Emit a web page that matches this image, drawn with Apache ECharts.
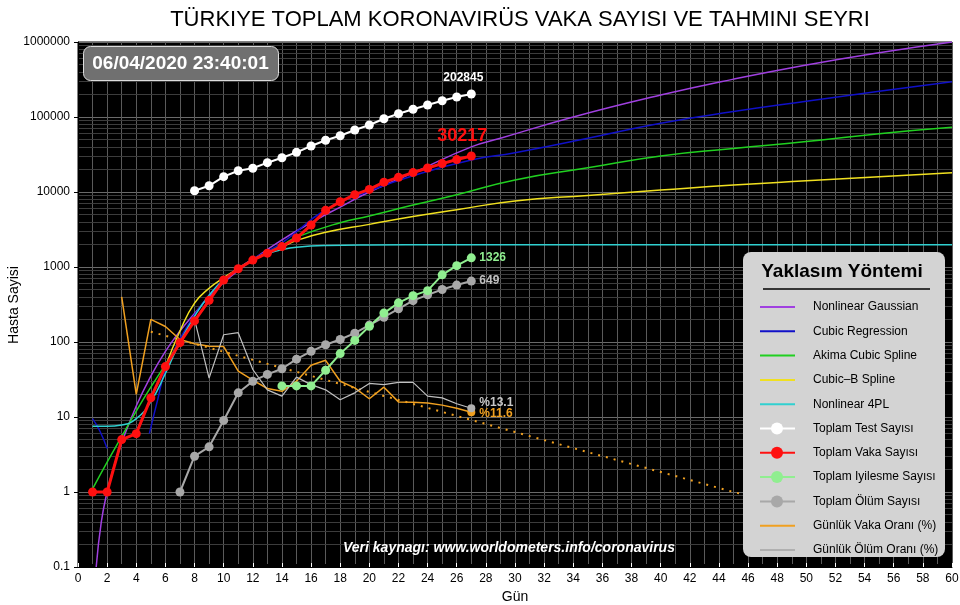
<!DOCTYPE html>
<html><head><meta charset="utf-8">
<script src="https://cdn.jsdelivr.net/npm/echarts@6/dist/echarts.min.js"></script>
<style>html,body{margin:0;padding:0;background:#fff}#c{width:960px;height:605px}</style>
</head><body><div id="c"></div>
<script>
const days = [1,2,3,4,5,6,7,8,9,10,11,12,13,14,15,16,17,18,19,20,21,22,23,24,25,26,27];
const cases = [1,1,5,6,18,47,98,191,359,670,947,1236,1529,1872,2433,3629,5698,7402,9217,10827,13531,15679,18135,20921,23934,27069,30217];
const testDays = [8,9,10,11,12,13,14,15,16,17,18,19,20,21,22,23,24,25,26,27];
const tests = [10400,12100,16000,19200,20700,24600,28600,33800,41000,48900,56300,67100,78200,94800,110700,126700,144500,164900,185000,202845];
const recDays = [14,15,16,17,18,19,20,21,22,23,24,25,26,27];
const recovered = [26,26,26,42,70,105,162,243,333,415,484,786,1042,1326];
const deathDays = [7,8,9,10,11,12,13,14,15,16,17,18,19,20,21,22,23,24,25,26,27];
const deaths = [1,3,4,9,21,30,37,44,59,75,92,108,131,168,214,277,356,425,501,574,649];
const caseRateDays = [3,4,5,6,7,8,9,10,11,12,13,14,15,16,17,18,19,20,21,22,23,24,25,26,27];
const caseRate = [400,20,200,161,108,95,88,87,41,31,24,22,30,49,57,30,24.5,17.5,25,15.9,15.7,15.4,14.4,13.1,11.6];
const deathRateDays = [8,9,10,11,12,13,14,15,16,17,18,19,20,21,22,23,24,25,26,27];
const deathRate = [200,33,125,133,43,23,19,34,27,23,17,21,28,27,29,29,19,18,15,13.1];
const trendDays = [5,10,15,20,25,30,35,40,45,47];
const trend = [137,74,40,21.6,11.7,6.3,3.4,1.85,1.0,0.8];
const gaussDays = [1.25,1.6,2,2.5,3,4,5,6,7,8,9,10,11,12,14,16,18,20,23,27,29,34,40,45,50,55,60];
const gauss = [0.1,0.4,1,2.3,4.5,14,35,75,140,240,400,620,900,1250,2300,3900,6300,10000,18000,40000,52000,100000,196000,320000,494000,720000,1000000];
const cubicDays = [1,1.5,2,2.5,3,4,4.9,5.5,6,7,8,9,10,11,12,14,17,20,23,27,30,35,40,45,50,55,60];
const cubic = [9.5,6.5,3.8,null,null,null,6,18,42,110,230,420,680,950,1280,2100,5800,10300,16500,26700,33400,52000,82400,118000,162000,220000,296000];
const akimaDays = [1,2,3,4,5,6,7,8,9,10,11,12,13,14,15,18,20,23,26,30,35,40,45,50,55,60];
const akima = [1.1,2.5,5.5,12,25,50,100,190,360,650,950,1250,1550,1950,2500,3900,4800,6700,9200,14500,21000,30200,38000,47000,60000,73000];
const bsplDays = [6,7,8,9,10,11,12,13,14,15,17,20,23,26,30,35,40,45,50,55,60];
const bspl = [47,140,330,520,720,950,1250,1550,1850,2250,2900,3700,4700,5800,7600,9000,10600,12400,14100,16000,18100];
const fplDays = [1,2,3,4,5,6,7,8,9,10,11,12,13,14,15,17,20,25,30,60];
const fpl = [7.5,7.5,7.8,9.5,16,38,100,220,420,680,950,1250,1500,1700,1830,1930,1965,1975,1978,1980];
const yMinorValues = (function(){const a=[];for(let e=-1;e<6;e++)for(let m=2;m<10;m++)a.push(m*Math.pow(10,e));return a;})();
const xTicks = [0,60,2];

const zip=(xs,ys)=>xs.map((x,i)=>[x,ys[i]]);
const fit=(name,color,xs,ys)=>({name,type:'line',data:zip(xs,ys),smooth:true,showSymbol:false,connectNulls:false,lineStyle:{color,width:1.5},itemStyle:{color},z:3});
const pts=(name,color,xs,ys,w,lbl)=>({name,type:'line',data:zip(xs,ys),symbol:'circle',symbolSize:9,showSymbol:true,lineStyle:{color,width:w},itemStyle:{color},z:5,
  endLabel:lbl});
const chart=echarts.init(document.getElementById('c'));
const F='"Liberation Sans", Arial, sans-serif';
chart.setOption({
  backgroundColor:'#fff',animation:false,
  textStyle:{fontFamily:F},
  title:{text:'TÜRKIYE TOPLAM KORONAVIRÜS VAKA SAYISI VE TAHMINI SEYRI',left:515,textAlign:'center',top:4,textStyle:{fontSize:22,fontWeight:'normal',color:'#000',fontFamily:F}},
  grid:{left:78,right:8,top:42,bottom:38,containLabel:false,outerBoundsMode:'none',show:true,backgroundColor:'#000',borderColor:'#000'},
  xAxis:{type:'value',min:xTicks[0],max:xTicks[1],interval:xTicks[2],name:'Gün',nameLocation:'middle',nameGap:22,nameTextStyle:{fontSize:14,color:'#000'},
    axisLine:{lineStyle:{color:'#000'}},axisTick:{inside:true,length:4,lineStyle:{color:'#fff'}},axisLabel:{color:'#000',fontSize:12,margin:6},
    splitLine:{show:true,lineStyle:{color:'#5a5a5a',width:1}},minorTick:{show:true,splitNumber:2},minorSplitLine:{show:true,lineStyle:{color:'#5a5a5a',width:1}}},
  yAxis:{type:'log',logBase:10,min:0.1,max:1000000,
    axisLine:{lineStyle:{color:'#000'}},axisTick:{show:true,length:4},axisLabel:{color:'#000',fontSize:12,formatter:v=>String(v)},
    splitLine:{show:true,lineStyle:{color:'#6a6a6a',width:1}}},
  series:[
    {type:'line',data:[],silent:true,z:0,zlevel:0,markLine:{silent:true,z:0,symbol:'none',label:{show:false},lineStyle:{color:'#3c3c3c',width:1,type:'solid'},data:yMinorValues.map(v=>({yAxis:v}))}},
    fit('Nonlinear Gaussian','#a040e0',gaussDays,gauss),
    fit('Cubic Regression','#1010c8',cubicDays,cubic),
    fit('Akima Cubic Spline','#20d020',akimaDays,akima),
    fit('Cubic-B Spline','#f0e020',bsplDays,bspl),
    fit('Nonlinear 4PL','#30d0d0',fplDays,fpl),
    {name:'trend',type:'line',data:zip(trendDays,trend),showSymbol:false,lineStyle:{color:'#f0a020',width:2,type:[2,6]},z:2},
    {name:'Günlük Vaka Oranı (%)',type:'line',data:zip(caseRateDays,caseRate),showSymbol:false,lineStyle:{color:'#f0a020',width:1.5},itemStyle:{color:'#f0a020'},z:4,
      markPoint:{symbol:'circle',symbolSize:8,itemStyle:{color:'#f0a020'},label:{show:true,position:'right',distance:4,offset:[0,2],formatter:'%11.6',color:'#f0a020',fontWeight:'bold',fontSize:12},data:[{coord:[27,11.6]}]}},
    {name:'Günlük Ölüm Oranı (%)',type:'line',data:zip(deathRateDays,deathRate),showSymbol:false,lineStyle:{color:'#c0c0c0',width:1.2},itemStyle:{color:'#c0c0c0'},z:4,
      markPoint:{symbol:'circle',symbolSize:8,itemStyle:{color:'#b0b0b0'},label:{show:true,position:'right',distance:4,offset:[0,-6],formatter:'%13.1',color:'#c8c8c8',fontWeight:'bold',fontSize:12},data:[{coord:[27,13.1]}]}},
    pts('Toplam Ölüm Sayısı','#a8a8a8',deathDays,deaths,2,{show:true,formatter:'649',color:'#c0c0c0',fontWeight:'bold',fontSize:12,distance:8}),
    pts('Toplam Iyilesme Sayısı','#90ee90',recDays,recovered,2,{show:true,formatter:'1326',color:'#90ee90',fontWeight:'bold',fontSize:12,distance:8}),
    pts('Toplam Test Sayısı','#ffffff',testDays,tests,2,{show:true,formatter:'202845',color:'#fff',fontWeight:'bold',fontSize:12,offset:[-36,-16]}),
    pts('Toplam Vaka Sayısı','#ff1010',days,cases,3,{show:true,formatter:'30217',color:'#ff1010',fontWeight:'bold',fontSize:18,offset:[-42,-20]})
  ],
  graphic:[
    {type:'text',z:100,x:14,y:305,rotation:Math.PI/2,style:{text:'Hasta Sayisi',fill:'#000',font:'14px '+F,textAlign:'center',textVerticalAlign:'middle'}},
    {type:'group',left:83,top:46,z:100,children:[
      {type:'rect',z:100,shape:{x:0,y:0,width:195,height:34,r:7},style:{fill:'#707070',stroke:'#ddd',lineWidth:1}},
      {type:'text',z:101,style:{x:97,y:17,text:'06/04/2020 23:40:01',fill:'#fff',font:'bold 19px '+F,textAlign:'center',textVerticalAlign:'middle'}}]},
    {type:'text',z:100,left:343,top:541,style:{text:'Veri kaynagı: www.worldometers.info/coronavirus',fill:'#fff',font:'italic bold 14px '+F}},
    {type:'group',left:743,top:252,z:100,children:(function(){
      const items=[['Nonlinear Gaussian','#a040e0',0],['Cubic Regression','#1010c8',0],['Akima Cubic Spline','#20d020',0],['Cubic\u2013B Spline','#f0e020',0],['Nonlinear 4PL','#30d0d0',0],
        ['Toplam Test Sayısı','#ffffff',1],['Toplam Vaka Sayısı','#ff1010',1],['Toplam Iyilesme Sayısı','#90ee90',1],['Toplam Ölüm Sayısı','#a8a8a8',1],['Günlük Vaka Oranı (%)','#f0a020',0],['Günlük Ölüm Oranı (%)','#b0b0b0',0]];
      const c=[{type:'rect',z:100,shape:{x:0,y:0,width:202,height:305,r:8},style:{fill:'#d3d3d3'}},
        {type:'text',z:101,style:{x:99,y:20,text:'Yaklasım Yöntemi',fill:'#000',font:'bold 19px '+F,textAlign:'center',textVerticalAlign:'middle'}},
        {type:'line',z:101,shape:{x1:20,y1:37,x2:187,y2:37},style:{stroke:'#000',lineWidth:1.5}}];
      items.forEach((it,i)=>{const y=55+i*24.3;
        c.push({type:'line',z:101,shape:{x1:17,y1:y,x2:52,y2:y},style:{stroke:it[1],lineWidth:2}});
        if(it[2])c.push({type:'circle',z:102,shape:{cx:34,cy:y,r:6},style:{fill:it[1]}});
        c.push({type:'text',z:101,style:{x:70,y:y,text:it[0],fill:'#000',font:'12px '+F,textVerticalAlign:'middle'}});});
      return c;})()}
  ]
});
</script></body></html>
